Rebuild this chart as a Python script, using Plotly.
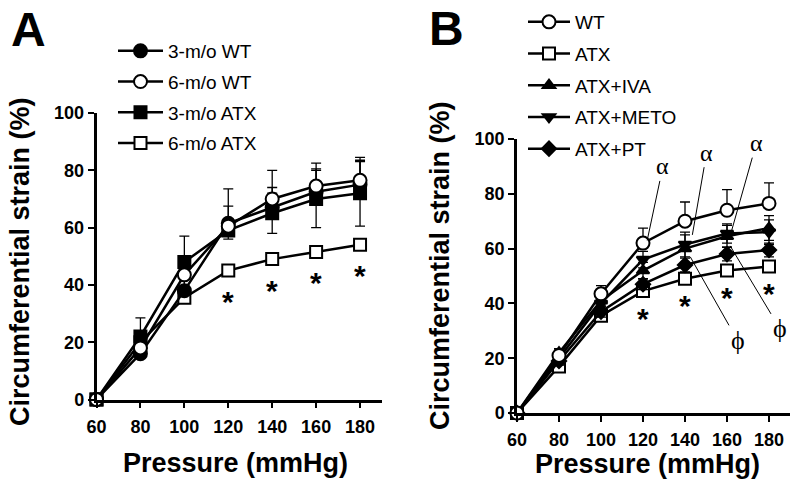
import plotly.graph_objects as go

pressure = [60, 80, 100, 120, 140, 160, 180]

# Panel A
a_names = ["3-m/o WT", "6-m/o WT", "3-m/o ATX", "6-m/o ATX"]
a_wt3 = [0, 16, 38, 61.5, 67, 72.5, 75]
a_wt6 = [0, 18, 43.5, 60.5, 70, 74.5, 76.5]
a_atx3 = [0, 22, 48, 59, 65, 70, 72]
a_atx6 = [0, 20, 35.5, 45, 49, 51.5, 54]
a_wt3_sem = [0, 2, 4, 6, 7, 8, 8]
a_wt6_sem = [0, 3, 5, 13, 10, 8, 8]
a_atx3_sem = [0, 6.5, 9, 3, 7, 10, 11.5]
a_atx6_sem = [0, 2, 2, 2, 2, 2, 2]

# Panel B
b_names = ["WT", "ATX", "ATX+IVA", "ATX+METO", "ATX+PT"]
b_wt = [0, 21, 43.5, 62, 70, 74, 76.5]
b_atx = [0, 17, 35.5, 44.5, 49, 52, 53.5]
b_iva = [0, 22, 41, 52, 60, 64.5, 67.5]
b_meto = [0, 20, 40, 56, 61.5, 65.5, 66]
b_pt = [0, 19, 37, 47, 54, 58, 59.5]
b_wt_sem = [0, 2, 3, 5.5, 7, 7.5, 7.5]
b_atx_sem = [0, 1.5, 2, 2, 2, 2, 2]
b_iva_sem = [0, 1.5, 2, 3, 5, 4, 4.5]
b_meto_sem = [0, 1.5, 2, 3, 4.5, 3.5, 4.5]
b_pt_sem = [0, 1.5, 2, 2, 2.5, 2.5, 2.5]

star_x = [120, 140, 160, 180]
alpha_text = [(129.5, 90), (150.3, 95), (174, 98.5)]
alpha_target = [(122, 63), (143.5, 65), (162, 66)]
phi_text = [(165, 26.5), (185, 31)]
phi_target = [(142.5, 57), (161.5, 61)]

ticks_x = [60, 80, 100, 120, 140, 160, 180]
ticks_y = [0, 20, 40, 60, 80, 100]

FONT = "Liberation Sans, Arial, sans-serif"
SERIF = "Liberation Serif, Times New Roman, serif"

W, H = 800, 490
OFF = 8  # page body margin offset seen in the rendered page


def px(x):
    return (x - OFF) / W


def py(y):
    return 1 - (y - OFF) / H


fig = go.Figure()


def add_series(x, y, sem, name, symbol, fill, size, xa, ya, legend, both, rank):
    err = dict(type="data", array=sem, symmetric=both, color="black",
               thickness=1.3, width=5)
    if not both:
        err["arrayminus"] = [0] * len(sem)
    fig.add_trace(go.Scatter(
        x=x, y=y, name=name, mode="lines+markers",
        line=dict(color="black", width=2.5),
        marker=dict(symbol=symbol, size=size, color=fill,
                    line=dict(color="black", width=2)),
        error_y=err, xaxis=xa, yaxis=ya, legend=legend,
        legendgroup=name, legendrank=rank, cliponaxis=False,
    ))


add_series(pressure, a_atx6, a_atx6_sem, a_names[3], "square", "white", 12, "x", "y", "legend", False, 4)
add_series(pressure, a_atx3, a_atx3_sem, a_names[2], "square", "black", 12, "x", "y", "legend", True, 3)
add_series(pressure, a_wt3, a_wt3_sem, a_names[0], "circle", "black", 13, "x", "y", "legend", False, 1)
add_series(pressure, a_wt6, a_wt6_sem, a_names[1], "circle", "white", 13, "x", "y", "legend", False, 2)

add_series(pressure, b_atx, b_atx_sem, b_names[1], "square", "white", 12, "x2", "y2", "legend2", True, 2)
add_series(pressure, b_pt, b_pt_sem, b_names[4], "diamond", "black", 11, "x2", "y2", "legend2", True, 5)
add_series(pressure, b_iva, b_iva_sem, b_names[2], "triangle-up", "black", 11, "x2", "y2", "legend2", True, 3)
add_series(pressure, b_meto, b_meto_sem, b_names[3], "triangle-down", "black", 11, "x2", "y2", "legend2", True, 4)
add_series(pressure, b_wt, b_wt_sem, b_names[0], "circle", "white", 13, "x2", "y2", "legend2", False, 1)

axis_common = dict(
    showline=True, linecolor="black", linewidth=2.5, ticks="outside",
    tickwidth=2, ticklen=6, tickcolor="black", showgrid=False, zeroline=False,
    automargin=False,
    tickfont=dict(family=FONT, size=18, color="black"),
)
xt = dict(tickvals=ticks_x, ticktext=[f"<b>{v}</b>" for v in ticks_x])
yt = dict(tickvals=ticks_y, ticktext=[f"<b>{v}</b>" for v in ticks_y])

fig.update_layout(
    template="none",
    width=W, height=H, margin=dict(l=0, r=0, t=0, b=0, pad=0, autoexpand=False),
    paper_bgcolor="white", plot_bgcolor="white",
    xaxis=dict(domain=[px(96.5), px(382)], range=[60, 190],
               anchor="y", ticklabelstandoff=3, **xt, **axis_common),
    yaxis=dict(domain=[py(399.5), py(113)], range=[0, 100],
               anchor="x", **yt, **axis_common),
    xaxis2=dict(domain=[px(517), px(790)], range=[60, 190],
                anchor="y2", ticklabelstandoff=3, **xt, **axis_common),
    yaxis2=dict(domain=[py(413), py(139)], range=[0, 100],
                anchor="x2", **yt, **axis_common),
    legend=dict(x=105 / W, y=1 - 24 / H, xanchor="left", yanchor="top",
                font=dict(family=FONT, size=19, color="black"),
                traceorder="grouped", tracegroupgap=3, itemwidth=45,
                bgcolor="rgba(0,0,0,0)", borderwidth=0),
    legend2=dict(x=515 / W, y=1 + 5 / H, xanchor="left", yanchor="top",
                 font=dict(family=FONT, size=19, color="black"),
                 traceorder="grouped", tracegroupgap=4, itemwidth=42,
                 bgcolor="rgba(0,0,0,0)", borderwidth=0),
)

ann = []
C = dict(xanchor="center", yanchor="middle")
# panel letters
ann.append(dict(text="<b>A</b>", x=px(28), y=py(30), xref="paper", yref="paper",
                showarrow=False, font=dict(family=FONT, size=48, color="black"), **C))
ann.append(dict(text="<b>B</b>", x=px(447), y=py(29), xref="paper", yref="paper",
                showarrow=False, font=dict(family=FONT, size=48, color="black"), **C))
# axis titles
for cx, cy in [(235, 463), (647, 464)]:
    ann.append(dict(text="<b>Pressure (mmHg)</b>", x=px(cx), y=py(cy),
                    xref="paper", yref="paper", showarrow=False,
                    font=dict(family=FONT, size=27, color="black"), **C))
for cx, cy in [(20, 262), (440, 266)]:
    ann.append(dict(text="<b>Circumferential strain (%)</b>", x=px(cx), y=py(cy),
                    xref="paper", yref="paper", showarrow=False, textangle=-90,
                    font=dict(family=FONT, size=27, color="black"), **C))
# asterisks
for xv in star_x:
    i = pressure.index(xv)
    ann.append(dict(text="<b>*</b>", x=xv, y=a_atx6[i], xref="x", yref="y",
                    showarrow=False, yshift=-31,
                    font=dict(family=FONT, size=30, color="black"), **C))
    ann.append(dict(text="<b>*</b>", x=xv, y=b_atx[i], xref="x2", yref="y2",
                    showarrow=False, yshift=-27,
                    font=dict(family=FONT, size=30, color="black"), **C))
# greek symbols with leader lines
for (tx, ty), (ex, ey) in zip(alpha_text, alpha_target):
    ann.append(dict(text="α", x=ex, y=ey, ax=tx, ay=ty, xref="x2", yref="y2",
                    axref="x2", ayref="y2", showarrow=True, arrowhead=0,
                    arrowwidth=1, arrowcolor="black",
                    font=dict(family=SERIF, size=24, color="black")))
for (tx, ty), (ex, ey) in zip(phi_text, phi_target):
    ann.append(dict(text="ϕ", x=ex, y=ey, ax=tx, ay=ty, xref="x2", yref="y2",
                    axref="x2", ayref="y2", showarrow=True, arrowhead=0,
                    arrowwidth=1, arrowcolor="black",
                    font=dict(family=SERIF, size=26, color="black")))
fig.update_layout(annotations=ann)

fig.write_html("out.html")
